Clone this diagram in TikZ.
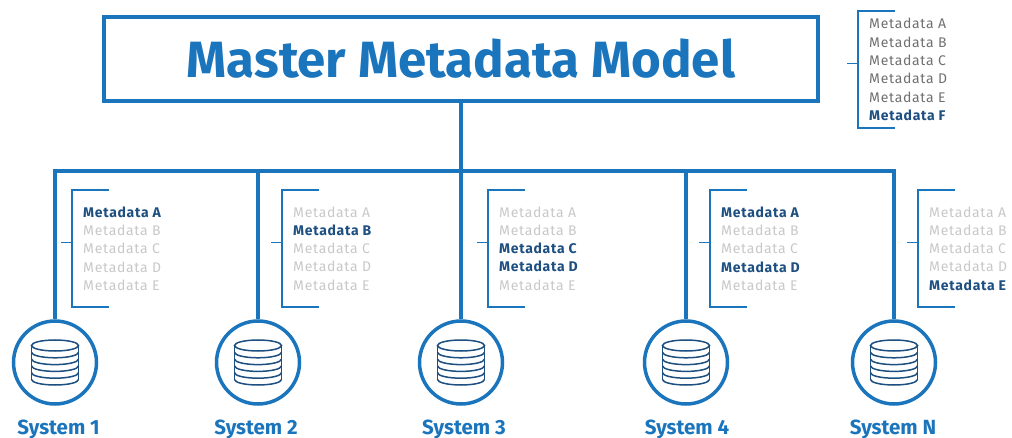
\documentclass[tikz,border=0pt]{standalone}
\usepackage{fontspec}
\setmainfont{Fira Sans}
\newfontfamily\listfont{Fira Sans}[LetterSpace=5]
\definecolor{mmblue}{HTML}{1B75BC}
\definecolor{mmnavy}{HTML}{1D4F80}
\definecolor{mmlight}{HTML}{C8C8C8}
\definecolor{mmgray}{HTML}{707070}
\newcommand{\mdon}[1]{\textcolor{mmnavy}{\bfseries #1}}
\newcommand{\mdoff}[1]{\textcolor{mmlight}{#1}}
\newcommand{\mdmid}[1]{\textcolor{mmgray}{#1}}

\tikzset{
    bus/.style={draw=mmblue, line width=3.5pt},
    brk/.style={draw=mmblue, line width=1.8pt},
    dbline/.style={draw=mmnavy, line width=1.5pt},
    master/.style={draw=mmblue, line width=3.5pt, minimum width=714pt, minimum height=84pt,
        inner sep=0pt, text=mmblue, font=\fontsize{51}{60}\selectfont\bfseries},
    sys/.style={circle, draw=mmblue, line width=3.5pt, minimum size=83pt, inner sep=0pt},
    syslabel/.style={anchor=base, text=mmblue, font=\fontsize{20.5}{24}\selectfont\bfseries},
    mdlist/.style={anchor=west, align=left, inner sep=0pt, font=\listfont\fontsize{14}{18.3}\selectfont},
    bracket/.pic={
        \draw[brk] (26,-58.5) -- (-11,-58.5) -- (-11,58.5) -- (26,58.5);
        \draw[brk] (-22,-6) -- (-11,-6);
    },
    dbstack/.pic={
        \draw[dbline] (0,-17) ellipse [x radius=23.5pt, y radius=5.5pt];
        \draw[dbline] (-23.5,-17) -- (-23.5,17);
        \draw[dbline] (23.5,-17) -- (23.5,17);
        \foreach \k in {1,...,5}
            \draw[dbline] (-23.5,{-17+6.8*\k}) arc[start angle=180, end angle=360, x radius=23.5pt, y radius=5.5pt];
    }
}

\begin{document}
\begin{tikzpicture}[x=1pt, y=-1pt]
    \useasboundingbox (0,0) rectangle (1012,438);

    \node[master] (master) at (461,59) {Master Metadata Model};

    % systems
    \node[sys] (sys1) at (55,362.5) {};
    \node[sys] (sys2) at (258,362.5) {};
    \node[sys] (sys3) at (461,362.5) {};
    \node[sys] (sys4) at (686,362.5) {};
    \node[sys] (sys5) at (894,362.5) {};

    \foreach \s in {sys1,sys2,sys3,sys4,sys5}
        \pic at (\s) {dbstack};

    \node[syslabel] (lab1) at (58.5,434) {System 1};
    \node[syslabel] (lab2) at (256,434) {System 2};
    \node[syslabel] (lab3) at (464,434) {System 3};
    \node[syslabel] (lab4) at (687,434) {System 4};
    \node[syslabel] (lab5) at (893,434) {System N};

    % bus
    \coordinate (bus) at (461,171);
    \draw[bus] (sys1.north) |- (bus) -| (sys5.north);
    \foreach \s in {sys2,sys3,sys4}
        \draw[bus] (\s.north) -- (\s.north |- bus);
    \draw[bus] (master.south) -- (bus);

    % metadata lists
    \node[mdlist] (listm) at (869,69.5) {\mdmid{Metadata A}\\\mdmid{Metadata B}\\\mdmid{Metadata C}\\\mdmid{Metadata D}\\\mdmid{Metadata E}\\\mdon{Metadata F}};
    \node[mdlist] (list1) at (83,248.5) {\mdon{Metadata A}\\\mdoff{Metadata B}\\\mdoff{Metadata C}\\\mdoff{Metadata D}\\\mdoff{Metadata E}};
    \node[mdlist] (list2) at (293,248.5) {\mdoff{Metadata A}\\\mdon{Metadata B}\\\mdoff{Metadata C}\\\mdoff{Metadata D}\\\mdoff{Metadata E}};
    \node[mdlist] (list3) at (499,248.5) {\mdoff{Metadata A}\\\mdoff{Metadata B}\\\mdon{Metadata C}\\\mdon{Metadata D}\\\mdoff{Metadata E}};
    \node[mdlist] (list4) at (721,248.5) {\mdon{Metadata A}\\\mdoff{Metadata B}\\\mdoff{Metadata C}\\\mdon{Metadata D}\\\mdoff{Metadata E}};
    \node[mdlist] (list5) at (929,248.5) {\mdoff{Metadata A}\\\mdoff{Metadata B}\\\mdoff{Metadata C}\\\mdoff{Metadata D}\\\mdon{Metadata E}};

    \foreach \l in {listm,list1,list2,list3,list4,list5}
        \pic at (\l.west) {bracket};
\end{tikzpicture}
\end{document}
